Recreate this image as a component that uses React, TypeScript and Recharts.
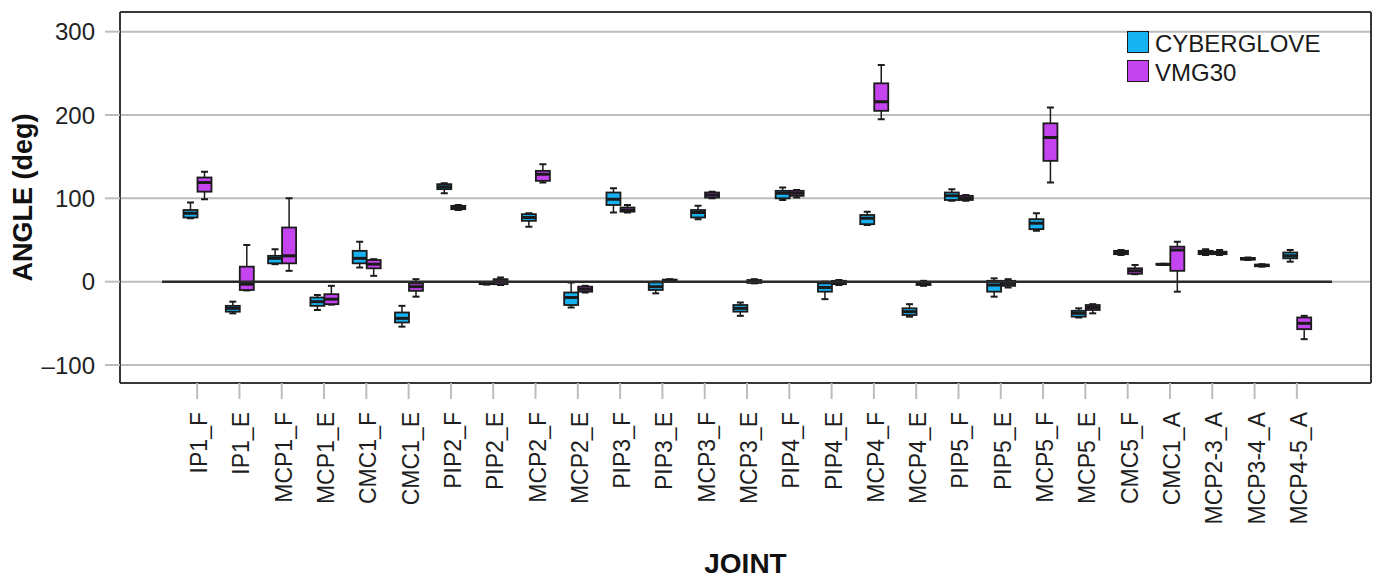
import React from "react";
import {
  ComposedChart,
  Bar,
  XAxis,
  YAxis,
  CartesianGrid,
  ReferenceLine,
  Legend,
  Label,
} from "recharts";

// joints on the x axis
const JOINTS = [
  "IP1_F", "IP1_E", "MCP1_F", "MCP1_E", "CMC1_F", "CMC1_E", "PIP2_F",
  "PIP2_E", "MCP2_F", "MCP2_E", "PIP3_F", "PIP3_E", "MCP3_F", "MCP3_E",
  "PIP4_F", "PIP4_E", "MCP4_F", "MCP4_E", "PIP5_F", "PIP5_E", "MCP5_F",
  "MCP5_E", "CMC5_F", "CMC1_A", "MCP2-3_A", "MCP3-4_A", "MCP4-5_A",
];

// CYBERGLOVE box stats (deg)
const CG_MIN = [76, -38, 21, -34, 17, -54, 106, -3.5, 66, -31, 83, -14, 75, -41, 98, -21, 68, -42, 97, -18, 61, -43, 32, 20.2, 32, 26, 24];
const CG_Q1 = [77, -36, 22, -29, 22, -49, 111, -3, 73, -28, 92, -10, 77, -36, 100, -12, 69, -40, 98, -12, 63, -42, 33, 20.5, 33, 26.5, 28];
const CG_MED = [82, -32, 28, -24, 28, -44, 114, -2, 77, -19, 99, -6, 83, -32, 106, -7, 76, -36, 103, -4, 70, -38, 35, 20.8, 35, 27.5, 31];
const CG_Q3 = [86, -29, 31, -19, 37, -37, 117, -1, 81, -13, 107, -1, 86, -28, 109, -2, 80, -32, 107, 1, 75, -35, 37, 21.2, 37, 28.5, 35];
const CG_MAX = [95, -24, 39, -16, 48, -29, 118, -0.5, 82, -1, 112, 0, 91, -25, 113, 0, 84, -27, 111, 4, 82, -32, 38, 21.5, 39, 29, 38];

// VMG30 box stats (deg)
const VMG_MIN = [99, -10.5, 13, -27.5, 7, -18, 86, -4, 119, -13, 83, 0, 100, -2, 101, -4, 195, -5, 97, -7, 119, -38, 9, -12, 32, 18, -69];
const VMG_Q1 = [108, -10, 22, -27, 16, -11, 87, -3, 121, -12, 84, 0.5, 101, -1.5, 103, -3, 205, -4, 98, -5, 145, -34, 9.5, 13, 33, 18.5, -57];
const VMG_MED = [119, -3, 31, -21, 21, -6, 89, 0, 129, -9, 86, 1, 104, 0, 106, -1, 216, -2, 100, -2, 173, -31, 13, 38, 35, 19.5, -50];
const VMG_Q3 = [125, 18, 65, -15, 26, -2, 91, 3, 133, -6, 89, 2.5, 107, 2, 109, 1, 238, -1, 103, 1, 190, -28, 16, 42, 36, 20.5, -43];
const VMG_MAX = [132, 44, 100, -5, 27, 3, 92, 5, 141, -5, 92, 3, 108, 3, 110, 2, 260, 1, 104, 3, 209, -27, 20, 48, 38, 21, -41];

const Y_TICKS = [-100, 0, 100, 200, 300];
const Y_DOMAIN = [-121.6, 323.6];

const SERIES = [
  { key: "cg", name: "CYBERGLOVE", color: "#17B2F2" },
  { key: "vmg", name: "VMG30", color: "#C444F0" },
];

const FONT = '"Liberation Sans", Arial, sans-serif';
const EDGE = "#1b1b1b";
const GRID = "#bdbdbd";
const FRAME = "#383838";

const rows = JOINTS.map((joint, i) => ({
  joint,
  cg: [CG_MIN[i], CG_Q1[i], CG_MED[i], CG_Q3[i], CG_MAX[i]],
  vmg: [VMG_MIN[i], VMG_Q1[i], VMG_MED[i], VMG_Q3[i], VMG_MAX[i]],
}));

// bar carries the whisker range; the rest of the box is placed inside it
const makeBoxShape = (key: string, fill: string) => (props: any) => {
  const { x, y, width, height, payload } = props;
  if (!payload || x == null || y == null) return <g />;
  const [lo, q1, med, q3, hi] = payload[key];
  const top = Math.min(y, y + height);
  const h = Math.abs(height);
  const py = (v: number) => (hi === lo ? top : top + ((hi - v) / (hi - lo)) * h);
  const cx = x + width / 2;
  const cap = 3.5;
  return (
    <g>
      <line x1={cx} x2={cx} y1={py(hi)} y2={py(q3)} stroke={EDGE} strokeWidth={1.5} />
      <line x1={cx} x2={cx} y1={py(q1)} y2={py(lo)} stroke={EDGE} strokeWidth={1.5} />
      <line x1={cx - cap} x2={cx + cap} y1={py(hi)} y2={py(hi)} stroke={EDGE} strokeWidth={2} />
      <line x1={cx - cap} x2={cx + cap} y1={py(lo)} y2={py(lo)} stroke={EDGE} strokeWidth={2} />
      <rect
        x={x + 0.5}
        y={py(q3)}
        width={width - 1}
        height={Math.max(py(q1) - py(q3), 0.5)}
        fill={fill}
        stroke={EDGE}
        strokeWidth={1.8}
      />
      <line x1={x + 0.5} x2={x + width - 0.5} y1={py(med)} y2={py(med)} stroke={EDGE} strokeWidth={3} />
    </g>
  );
};

const JointTick = (props: any) => {
  const { x, y, payload } = props;
  const cx = x + 2;
  return (
    <text
      x={cx}
      y={y}
      transform={`rotate(-90 ${cx} ${y})`}
      textAnchor="end"
      dominantBaseline="central"
      fontSize={23}
      fontFamily={FONT}
      fill="#1e1e1e"
    >
      {payload.value}
    </text>
  );
};

const ZeroLine = (p: any) => {
  const step = Math.abs(p.x2 - p.x1) / (JOINTS.length - 1);
  const ext = step * 0.83;
  return (
    <line
      x1={Math.min(p.x1, p.x2) - ext}
      x2={Math.max(p.x1, p.x2) + ext}
      y1={p.y1}
      y2={p.y2}
      stroke="#2a2a2a"
      strokeWidth={2.5}
    />
  );
};

const JointTitle = (props: any) => {
  const vb = props.viewBox || { x: 120, y: 383, width: 1251, height: 195 };
  return (
    <text
      x={vb.x + vb.width / 2}
      y={vb.y + vb.height - 5}
      textAnchor="middle"
      fontSize={28}
      fontWeight="bold"
      fontFamily={FONT}
      fill="#111"
    >
      JOINT
    </text>
  );
};

const AngleTitle = (props: any) => {
  const vb = props.viewBox || { x: 0, y: 12, width: 120, height: 371 };
  const tx = vb.x + 23;
  const ty = vb.y + vb.height / 2;
  return (
    <text
      x={tx}
      y={ty}
      transform={`rotate(-90 ${tx} ${ty})`}
      textAnchor="middle"
      dominantBaseline="central"
      fontSize={27}
      fontWeight="bold"
      fontFamily={FONT}
      fill="#111"
    >
      ANGLE (deg)
    </text>
  );
};

const LegendBox = () => (
  <div style={{ fontFamily: FONT }}>
    {SERIES.map((s) => (
      <div key={s.key} style={{ display: "flex", alignItems: "center", height: 29 }}>
        <div
          style={{
            width: 20,
            height: 20,
            background: s.color,
            border: `1.5px solid ${EDGE}`,
          }}
        />
        <span style={{ marginLeft: 6, fontSize: 24, color: "#1a1a1a", position: "relative", top: 2 }}>
          {s.name}
        </span>
      </div>
    ))}
  </div>
);

const fmtY = (v: number) => (v < 0 ? `\u2013${Math.abs(v)}` : `${v}`);

export default function App() {
  return (
    <div style={{ position: "absolute", left: 0, top: 0, width: 1379, height: 578, background: "#fff" }}>
      <ComposedChart
        width={1379}
        height={578}
        data={rows}
        margin={{ top: 11, right: 7, bottom: 0, left: 0 }}
        barGap={-1}
      >
        <CartesianGrid vertical={false} stroke={GRID} strokeWidth={2} />
        <XAxis
          dataKey="joint"
          height={195}
          interval={0}
          padding={{ left: 56, right: 53 }}
          tickSize={16}
          tickMargin={13}
          tickLine={{ stroke: GRID, strokeWidth: 2 }}
          axisLine={{ stroke: FRAME, strokeWidth: 2 }}
          tick={<JointTick />}
        >
          <Label content={JointTitle} />
        </XAxis>
        <XAxis
          xAxisId="top"
          orientation="top"
          dataKey="joint"
          height={1}
          tick={false}
          tickLine={false}
          axisLine={{ stroke: FRAME, strokeWidth: 2 }}
        />
        <YAxis
          type="number"
          width={120}
          domain={Y_DOMAIN}
          ticks={Y_TICKS}
          allowDataOverflow
          interval={0}
          tickSize={15}
          tickMargin={10}
          tickLine={{ stroke: GRID, strokeWidth: 2 }}
          axisLine={{ stroke: FRAME, strokeWidth: 2 }}
          tickFormatter={fmtY}
          tick={{ fontSize: 24, fill: "#222", fontFamily: FONT }}
        >
          <Label content={AngleTitle} />
        </YAxis>
        <YAxis
          yAxisId="right"
          orientation="right"
          type="number"
          width={1}
          domain={Y_DOMAIN}
          tick={false}
          tickLine={false}
          axisLine={{ stroke: FRAME, strokeWidth: 2 }}
        />
        <ReferenceLine
          segment={[
            { x: JOINTS[0], y: 0 },
            { x: JOINTS[JOINTS.length - 1], y: 0 },
          ]}
          stroke="#2a2a2a"
          strokeWidth={2.5}
          shape={ZeroLine}
        />
        {SERIES.map((s) => (
          <Bar
            key={s.key}
            name={s.name}
            dataKey={(d: any) => [d[s.key][0], d[s.key][4]]}
            fill={s.color}
            barSize={15}
            isAnimationActive={false}
            shape={makeBoxShape(s.key, s.color)}
          />
        ))}
        <Legend
          layout="vertical"
          align="center"
          verticalAlign="middle"
          wrapperStyle={{ left: 1127, top: 27, width: 230 }}
          content={<LegendBox />}
        />
      </ComposedChart>
    </div>
  );
}
